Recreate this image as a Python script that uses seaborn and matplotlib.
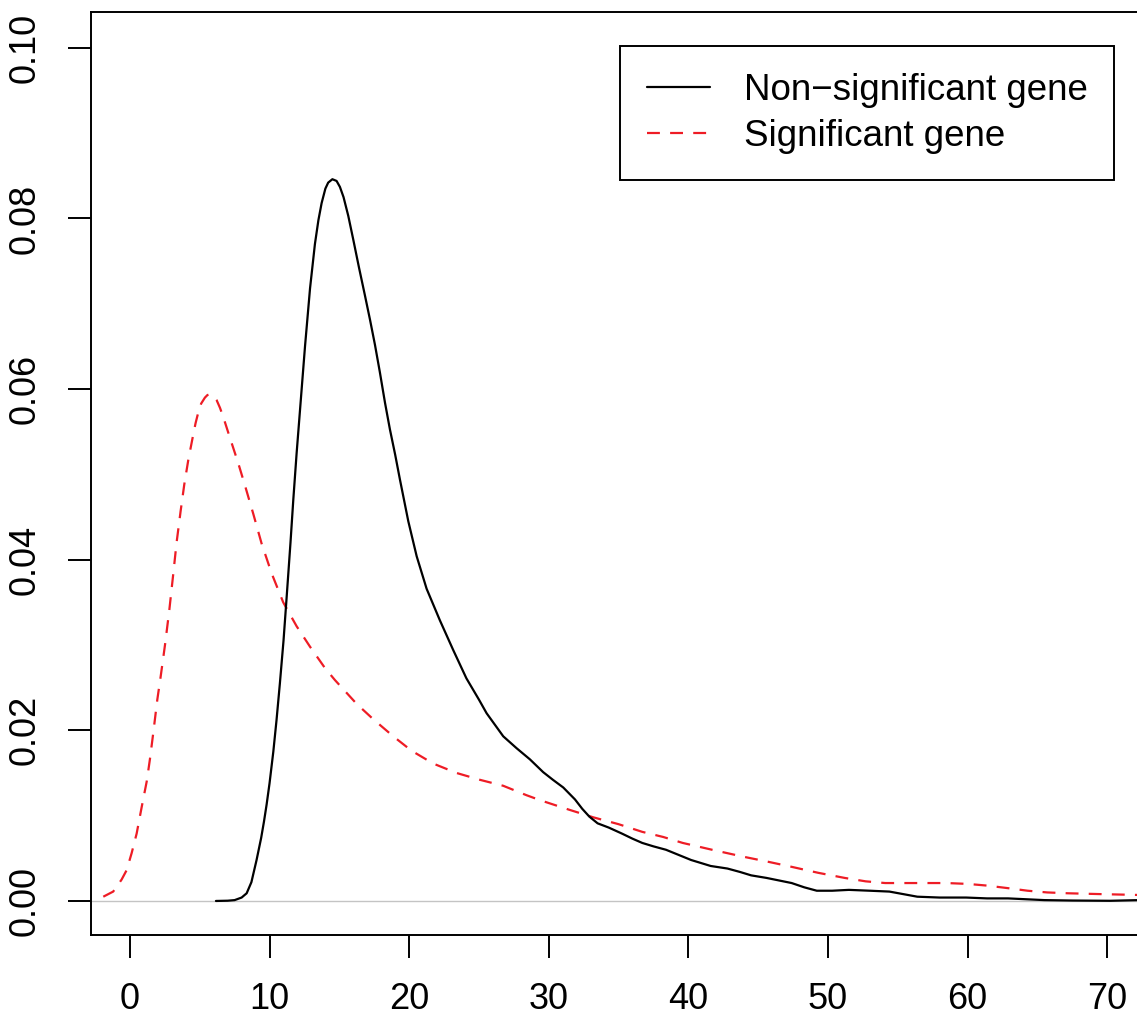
import numpy as np
import pandas as pd
import matplotlib
matplotlib.use("Agg")
import matplotlib.pyplot as plt
import seaborn as sns

# ---- data ----
nonsig_x = [6.16, 7.0, 7.5, 8.0, 8.36, 8.7, 9.07, 9.4, 9.6, 9.79, 10.0, 10.27, 10.5, 10.74,
            11.0, 11.22, 11.5, 11.7, 11.94, 12.18, 12.3, 12.54, 12.9, 13.25, 13.5, 13.73,
            14.0, 14.2, 14.5, 14.8, 15.04, 15.3, 15.64, 16.0, 16.4, 16.83, 17.2, 17.55,
            17.9, 18.27, 18.62, 19.0, 19.34, 19.94, 20.54, 21.25, 22.2, 23.16, 24.1, 25.0,
            25.55, 26.74, 27.7, 28.65, 29.6, 30.3, 31.04, 31.88, 32.4, 32.9, 33.5, 34.3,
            35.24, 36.0, 36.7, 37.5, 38.4, 39.3, 40.2, 41.0, 41.6, 42.8, 43.7, 44.5, 45.6,
            46.8, 47.4, 48.3, 49.2, 50.3, 51.5, 53.0, 54.4, 55.4, 56.4, 58.0, 59.9, 61.4,
            62.9, 64.2, 65.5, 67.5, 70.2, 72.3]
nonsig_y = [0.0, 0.00003, 0.0001, 0.0004, 0.0009, 0.0022, 0.0048, 0.0074, 0.0093, 0.0113,
            0.0138, 0.0175, 0.0212, 0.0255, 0.0305, 0.0355, 0.0420, 0.0470, 0.0525, 0.0575,
            0.0600, 0.0650, 0.0718, 0.0770, 0.0798, 0.0818, 0.0835, 0.0842, 0.0846, 0.0844,
            0.0837, 0.0825, 0.0803, 0.0775, 0.0743, 0.0710, 0.0681, 0.0652, 0.0620, 0.0584,
            0.0553, 0.0523, 0.0494, 0.0445, 0.0404, 0.0366, 0.0329, 0.0294, 0.0261, 0.0236,
            0.0220, 0.0193, 0.0179, 0.0166, 0.0151, 0.0142, 0.0133, 0.0119, 0.0108, 0.0099,
            0.0091, 0.0086, 0.0079, 0.0073, 0.0068, 0.0064, 0.0060, 0.0054, 0.0048, 0.0044,
            0.0041, 0.0038, 0.0034, 0.0030, 0.0027, 0.0023, 0.0021, 0.0016, 0.0012, 0.0012,
            0.0013, 0.0012, 0.0011, 0.0008, 0.0005, 0.0004, 0.0004, 0.0003, 0.0003, 0.0002,
            0.0001, 0.00005, 0.00002, 0.0001]

sig_x = [-1.91, -1.2, -0.6, -0.24, 0.12, 0.48, 0.84, 1.2, 1.43, 1.67, 1.96, 2.2, 2.51,
         2.82, 3.1, 3.34, 3.63, 3.89, 4.18, 4.49, 4.7, 4.9, 5.1, 5.37, 5.55, 5.73, 5.95,
         6.21, 6.45, 6.69, 7.16, 7.76, 8.24, 8.83, 9.43, 10.15, 10.98, 11.94, 12.9, 13.97,
         14.68, 16.24, 17.43, 18.86, 20.18, 21.73, 23.4, 25.07, 26.74, 28.4, 29.4, 31.45,
         33.2, 35.0, 36.7, 38.2, 39.6, 41.7, 43.9, 45.7, 47.4, 49.3, 51.2, 52.7, 54.1,
         56.3, 58.5, 60.0, 61.4, 62.9, 64.3, 65.7, 67.2, 69.6, 72.3]
sig_y = [0.0005, 0.0011, 0.0025, 0.0036, 0.0056, 0.0079, 0.0110, 0.0140, 0.0166, 0.0197,
         0.0236, 0.0263, 0.0300, 0.0341, 0.0383, 0.0420, 0.0457, 0.0488, 0.0517, 0.0543,
         0.0560, 0.0573, 0.0583, 0.0590, 0.0593, 0.0594, 0.0592, 0.0587, 0.0578, 0.0567,
         0.0543, 0.0513, 0.0487, 0.0454, 0.0419, 0.0384, 0.0350, 0.0322, 0.0298, 0.0273,
         0.0259, 0.0231, 0.0213, 0.0193, 0.0176, 0.0161, 0.0150, 0.0142, 0.0135, 0.0124,
         0.0118, 0.0107, 0.0098, 0.0090, 0.0081, 0.0075, 0.0068, 0.0060, 0.0052, 0.0046,
         0.0040, 0.0033, 0.0027, 0.0023, 0.0021, 0.0021, 0.0021, 0.0020, 0.0018, 0.0015,
         0.0012, 0.0010, 0.0009, 0.0008, 0.0007]

series_labels = ["Non\u2212significant gene", "Significant gene"]
x_ticks = [0, 10, 20, 30, 40, 50, 60, 70]
y_ticks = [0.00, 0.02, 0.04, 0.06, 0.08, 0.10]
y_tick_labels = ["0.00", "0.02", "0.04", "0.06", "0.08", "0.10"]

# ---- style ----
sns.set_style("ticks")
plt.rcParams["font.family"] = ["Liberation Sans", "DejaVu Sans"]
plt.rcParams["text.color"] = "black"

W, H = 1137, 1019
fig = plt.figure(figsize=(W / 100, H / 100), dpi=100)
xmin, xmax = -2.79, 72.25
px_per_unit = 13.96
ax_w = (xmax - xmin) * px_per_unit
ax = fig.add_axes([91 / W, 84 / H, ax_w / W, 923 / H])

ax.axhline(0, color="#c4c4c4", lw=1.0, zorder=1)

sns.lineplot(x=sig_x, y=sig_y, ax=ax, color="#ee1c25", lw=1.6, sort=False,
             estimator=None, label=series_labels[1], zorder=2)
sns.lineplot(x=nonsig_x, y=nonsig_y, ax=ax, color="black", lw=1.6, sort=False,
             estimator=None, label=series_labels[0], zorder=3)
ax.lines[1].set_dashes([5.8, 4.6])
for ln in ax.lines:
    ln.set_solid_joinstyle("round")
    ln.set_dash_joinstyle("round")

ax.set_xlim(xmin, xmax)
ax.set_ylim(-0.00399, 0.1042)

ax.set_xticks(x_ticks)
ax.set_xticklabels([str(t) for t in x_ticks])
ax.set_yticks(y_ticks)
ax.set_yticklabels(y_tick_labels, rotation=90, va="center")

ax.tick_params(axis="both", direction="out", length=16.5, width=1.4, colors="black",
               labelsize=26)
ax.tick_params(axis="x", pad=17.5)
ax.tick_params(axis="y", pad=18)

for s in ["left", "bottom", "top"]:
    ax.spines[s].set_visible(True)
    ax.spines[s].set_linewidth(1.4)
    ax.spines[s].set_color("black")
ax.spines["right"].set_visible(False)
ax.set_xlabel("")
ax.set_ylabel("")

# legend: black line first
handles, labels = ax.get_legend_handles_labels()
order = [labels.index(series_labels[0]), labels.index(series_labels[1])]
leg = ax.legend([handles[i] for i in order], [labels[i] for i in order],
                loc="upper right", bbox_to_anchor=((1114 - 91) / ax_w, (935 - 46) / 923),
                borderaxespad=0, fontsize=26.5, frameon=True, fancybox=False,
                edgecolor="black", framealpha=1, handlelength=1.71, handletextpad=0.92,
                borderpad=0.72, labelspacing=0.3)
leg.get_frame().set_linewidth(1.4)
for t in leg.get_texts():
    t.set_color("black")

fig.savefig("out.png", dpi=100)
